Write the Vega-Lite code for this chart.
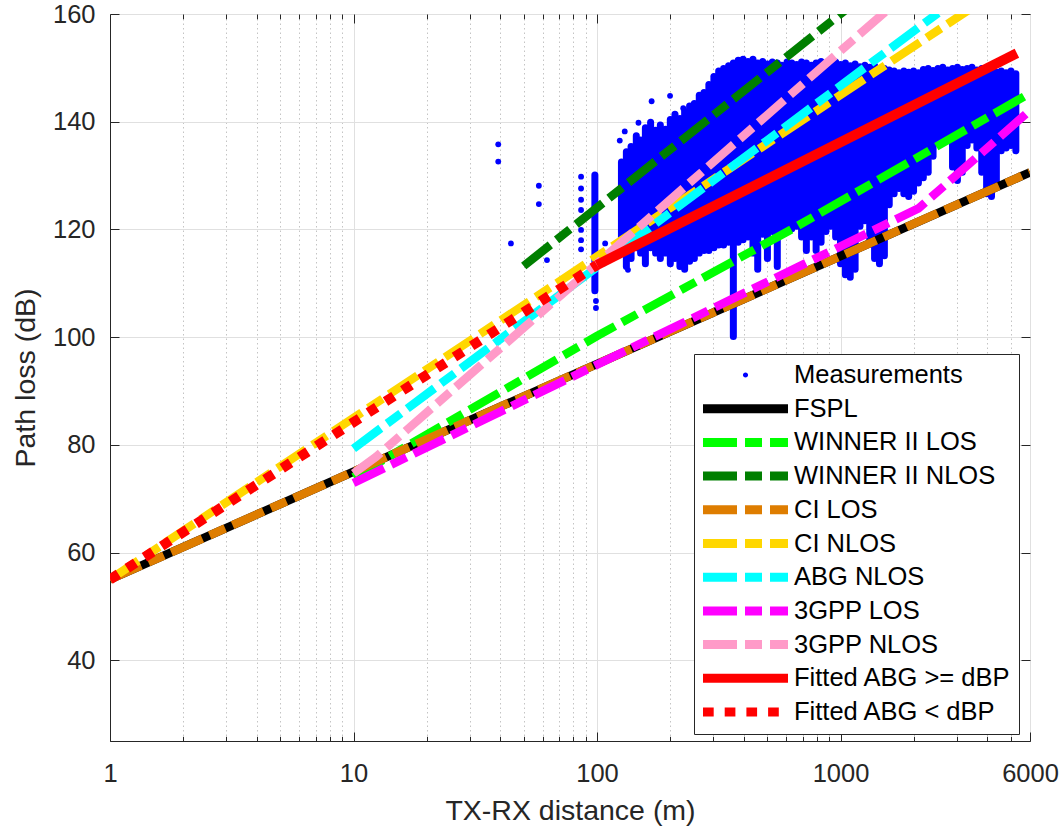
{
  "$schema": "https://vega.github.io/schema/vega-lite/v6.json",
  "width": 920,
  "height": 727,
  "autosize": {"type": "none"},
  "padding": {"left": 110, "top": 14, "right": 33, "bottom": 92},
  "background": "#ffffff",
  "config": {
    "font": "Liberation Sans",
    "view": {"stroke": "#262626", "strokeWidth": 1},
    "axis": {"labelFontSize": 25.5, "labelColor": "#262626", "titleFontSize": 28.5, "titleColor": "#262626", "titleFontWeight": "normal", "domainColor": "#262626", "tickColor": "#262626", "tickWidth": 1, "domainWidth": 1, "gridColor": "#e0e0e0", "gridWidth": 1, "labelFont": "Liberation Sans", "titleFont": "Liberation Sans"},
    "legend": {"strokeColor": "#262626", "strokeWidth": 1, "fillColor": "#ffffff", "padding": 8, "clipHeight": 26, "rowPadding": 6.7, "symbolSize": 7225, "symbolStrokeWidth": 9, "symbolOffset": -3.5, "labelOffset": 1.5, "labelFontSize": 25.5, "labelFont": "Liberation Sans", "labelColor": "#000000", "labelLimit": 400, "symbolType": "stroke", "cornerRadius": 0}
  },
  "datasets": {
    "cols": [
      {"d":98,"pl":130.1,"lo":108.6},
      {"d":126,"pl":132.5,"lo":115.6},{"d":132,"pl":134.4,"lo":113.1},{"d":138,"pl":135.4,"lo":114.6},{"d":145,"pl":137.4,"lo":116.6},{"d":151,"pl":136.6,"lo":115.6},{"d":158,"pl":138.9,"lo":113.6},{"d":166,"pl":139.9,"lo":116.6},{"d":174,"pl":138.4,"lo":115.6},{"d":182,"pl":139.4,"lo":114.6},{"d":191,"pl":138.6,"lo":115.6},
      {"d":200,"pl":140.4,"lo":113.6},{"d":209,"pl":141.4,"lo":114.6},{"d":219,"pl":140.6,"lo":113.1},{"d":229,"pl":141.9,"lo":112.6},{"d":240,"pl":142.9,"lo":114.1},{"d":251,"pl":143.4,"lo":114.6},{"d":263,"pl":144.9,"lo":115.6},{"d":275,"pl":145.4,"lo":116.1},{"d":288,"pl":146.9,"lo":116.1},{"d":302,"pl":148.4,"lo":116.6},
      {"d":316,"pl":149.4,"lo":117.1},{"d":331,"pl":149.9,"lo":117.1},{"d":347,"pl":150.4,"lo":117.6},{"d":363,"pl":150.9,"lo":100.1},{"d":380,"pl":151.4,"lo":117.6},{"d":398,"pl":151.6,"lo":118.1},{"d":417,"pl":151.2,"lo":118.6},{"d":437,"pl":151.6,"lo":115.6},{"d":457,"pl":150.9,"lo":112.6},{"d":479,"pl":151.2,"lo":119.1},
      {"d":501,"pl":150.7,"lo":114.6},{"d":525,"pl":151.1,"lo":119.6},{"d":550,"pl":150.9,"lo":113.1},{"d":575,"pl":150.5,"lo":119.6},{"d":603,"pl":151.1,"lo":120.6},{"d":631,"pl":150.9,"lo":120.1},{"d":661,"pl":150.6,"lo":120.6},{"d":692,"pl":151.1,"lo":118.6},{"d":724,"pl":150.9,"lo":116.1},{"d":759,"pl":150.5,"lo":118.6},
      {"d":794,"pl":150.9,"lo":116.1},{"d":832,"pl":151.2,"lo":117.6},{"d":871,"pl":150.7,"lo":119.6},{"d":912,"pl":150.9,"lo":120.6},{"d":955,"pl":151.1,"lo":118.6},{"d":1000,"pl":150.6,"lo":113.6},{"d":1047,"pl":150.9,"lo":111.6},{"d":1096,"pl":150.4,"lo":111.1},{"d":1148,"pl":150.7,"lo":112.6},{"d":1202,"pl":150.2,"lo":120.6},
      {"d":1259,"pl":150.5,"lo":121.6},{"d":1318,"pl":150.1,"lo":117.6},{"d":1380,"pl":150.4,"lo":114.6},{"d":1445,"pl":149.6,"lo":113.6},{"d":1514,"pl":149.9,"lo":115.1},{"d":1585,"pl":149.6,"lo":124.6},{"d":1660,"pl":149.4,"lo":126.6},{"d":1738,"pl":149.1,"lo":127.6},{"d":1820,"pl":149.4,"lo":126.6},{"d":1905,"pl":149.2,"lo":126.1},
      {"d":1995,"pl":149.4,"lo":127.1},{"d":2089,"pl":149.1,"lo":128.6},{"d":2188,"pl":149.7,"lo":129.6},{"d":2291,"pl":149.9,"lo":130.6},{"d":2399,"pl":149.5,"lo":133.6},{"d":2512,"pl":149.9,"lo":136.6},{"d":2630,"pl":150.1,"lo":137.1},{"d":2754,"pl":149.6,"lo":136.6},{"d":2884,"pl":149.9,"lo":131.6},{"d":3020,"pl":150.1,"lo":129.1},
      {"d":3162,"pl":149.7,"lo":130.6},{"d":3311,"pl":149.9,"lo":135.6},{"d":3467,"pl":150.1,"lo":136.6},{"d":3631,"pl":149.6,"lo":135.1},{"d":3802,"pl":149.9,"lo":130.6},{"d":3981,"pl":149.4,"lo":126.6},{"d":4169,"pl":149.6,"lo":126.1},{"d":4365,"pl":149.2,"lo":128.6},{"d":4571,"pl":149.4,"lo":134.6},{"d":4786,"pl":149.1,"lo":135.1},
      {"d":5012,"pl":149.4,"lo":135.6},{"d":5248,"pl":148.9,"lo":134.6}
    ],
    "pts": [
      {"d":39.3,"pl":135.8},{"d":39.3,"pl":132.6},{"d":44.3,"pl":117.4},{"d":57.7,"pl":128.1},{"d":57.7,"pl":124.7},{"d":62.3,"pl":114.3},
      {"d":86,"pl":129.8},{"d":86,"pl":127.6},{"d":86,"pl":125.5},{"d":86,"pl":123.6},{"d":86,"pl":121.7},{"d":86,"pl":119.9},{"d":86,"pl":118},{"d":86,"pl":116.3},
      {"d":99,"pl":106.7},{"d":99,"pl":105.4},{"d":108,"pl":117.4},{"d":134,"pl":112.5},{"d":124,"pl":136.5},{"d":130,"pl":138.2},{"d":148,"pl":139.8},{"d":167.6,"pl":143.8},{"d":199.5,"pl":144.8},{"d":226,"pl":142.5},{"d":265,"pl":144.6}
    ],
    "lines": [
      {"series":"FSPL","d":1,"pl":55},{"series":"FSPL","d":6000,"pl":130.6},
      {"series":"WINNER II LOS","d":10,"pl":74},{"series":"WINNER II LOS","d":100,"pl":100.2},{"series":"WINNER II LOS","d":640,"pl":120.2},{"series":"WINNER II LOS","d":6000,"pl":145.3},
      {"series":"WINNER II NLOS","d":50,"pl":113.2},{"series":"WINNER II NLOS","d":6000,"pl":188},
      {"series":"CI LOS","d":1,"pl":55},{"series":"CI LOS","d":6000,"pl":130.6},
      {"series":"CI NLOS","d":1,"pl":55},{"series":"CI NLOS","d":6000,"pl":168.3},
      {"series":"ABG NLOS","d":10,"pl":79.3},{"series":"ABG NLOS","d":6000,"pl":172.9},
      {"series":"3GPP LOS","d":10,"pl":72.9},{"series":"3GPP LOS","d":2090,"pl":123.9},{"series":"3GPP LOS","d":6000,"pl":142.1},
      {"series":"3GPP NLOS","d":10,"pl":74.7},{"series":"3GPP NLOS","d":12.4,"pl":77.8},{"series":"3GPP NLOS","d":6000,"pl":183.9},
      {"series":"Fitted ABG >= dBP","d":100,"pl":113.4},{"series":"Fitted ABG >= dBP","d":5300,"pl":152.7},
      {"series":"Fitted ABG < dBP","d":1,"pl":55},{"series":"Fitted ABG < dBP","d":100,"pl":113.4}
    ]
  },
  "resolve": {"axis": {"x": "independent", "y": "independent"}},
  "layer": [
    {
      "data": {"name": "cols"},
      "mark": {"type": "rule", "color": "#0000ff", "strokeWidth": 7, "strokeCap": "round", "clip": true},
      "encoding": {
        "x": {"field": "d", "type": "quantitative", "scale": {"type": "log", "domain": [1, 6000], "nice": false},
          "axis": {"orient": "bottom", "values": [1, 10, 100, 1000, 6000], "format": "d", "title": "TX-RX distance (m)", "grid": true, "tickSize": -9, "labelPadding": 29, "titlePadding": 10, "labelFlush": false, "labelOverlap": false,
            "encode": {"labels": {"update": {"dx": {"signal": "datum.value === 6000 ? -14 : 0"}}}}}},
        "y": {"field": "pl", "type": "quantitative", "scale": {"domain": [25, 160], "nice": false, "zero": false},
          "axis": {"orient": "left", "values": [40, 60, 80, 100, 120, 140, 160], "title": "Path loss (dB)", "grid": true, "tickSize": -9, "labelPadding": 24, "titlePadding": 12, "labelOverlap": false}},
        "y2": {"field": "lo"}
      }
    },
    {
      "data": {"name": "pts"},
      "mark": {"type": "point", "filled": true, "color": "#0000ff", "size": 34, "opacity": 1, "strokeWidth": 0, "clip": true},
      "encoding": {
        "x": {"field": "d", "type": "quantitative", "scale": {"type": "log", "domain": [1, 6000], "nice": false},
          "axis": {"orient": "bottom", "values": [2,3,4,5,6,7,8,9,20,30,40,50,60,70,80,90,200,300,400,500,600,700,800,900,2000,3000,4000,5000], "grid": true, "gridDash": [1.5, 3], "gridColor": "#c4c4c4", "labels": false, "tickSize": -4.7, "domain": false, "title": null}},
        "y": {"field": "pl", "type": "quantitative", "scale": {"domain": [25, 160], "nice": false, "zero": false},
          "axis": {"orient": "right", "values": [40, 60, 80, 100, 120, 140, 160], "grid": false, "labels": false, "tickSize": -9, "domain": false, "title": null}}
      }
    },
    {
      "data": {"name": "lines"},
      "transform": [{"filter": "datum.series === 'FSPL'"}],
      "mark": {"type": "line", "strokeWidth": 8.5, "strokeCap": "butt", "clip": true},
      "encoding": {
        "x": {"field": "d", "type": "quantitative", "scale": {"type": "log", "domain": [1, 6000], "nice": false},
          "axis": {"orient": "top", "values": [2,3,4,5,6,7,8,9,20,30,40,50,60,70,80,90,200,300,400,500,600,700,800,900,2000,3000,4000,5000], "grid": false, "labels": false, "tickSize": -4.7, "domain": false, "title": null}},
        "y": {"field": "pl", "type": "quantitative", "scale": {"domain": [25, 160], "nice": false, "zero": false}, "axis": null},
        "color": {"field": "series", "type": "nominal",
          "scale": {"domain": ["Measurements", "FSPL", "WINNER II LOS", "WINNER II NLOS", "CI LOS", "CI NLOS", "ABG NLOS", "3GPP LOS", "3GPP NLOS", "Fitted ABG >= dBP", "Fitted ABG < dBP"],
                    "range": ["#0000ff", "#000000", "#00ff00", "#007f00", "#de7d00", "#ffd700", "#00ffff", "#ff00ff", "#ff9ac8", "#ff0000", "#ff0000"]},
          "legend": {"title": null, "orient": "none", "legendX": 584, "legendY": 340,
            "encode": {"symbols": {"update": {
              "shape": [{"test": "datum.value === 'Measurements'", "value": "M-0.06,0a0.06,0.06 0 1,0 0.12,0a0.06,0.06 0 1,0 -0.12,0"}, {"value": "stroke"}],
              "fill": [{"test": "datum.value === 'Measurements'", "value": "#0000ff"}, {"value": "transparent"}],
              "strokeOpacity": [{"test": "datum.value === 'Measurements'", "value": 0}, {"value": 1}],
              "strokeDash": [{"test": "datum.value === 'FSPL' || datum.value === 'Fitted ABG >= dBP' || datum.value === 'Measurements'", "value": []}, {"test": "datum.value === 'Fitted ABG < dBP'", "value": [10.7, 11]}, {"value": [34, 8, 17, 8]}],
              "strokeCap": {"value": "butt"},
              "opacity": {"value": 1}
            }}}}
        }
      }
    },
    {
      "data": {"name": "lines"},
      "transform": [{"filter": "datum.series === 'WINNER II LOS'"}],
      "mark": {"type": "line", "strokeWidth": 8.5, "strokeCap": "butt", "strokeDash": [34, 8, 17, 8], "clip": true},
      "encoding": {
        "x": {"field": "d", "type": "quantitative", "scale": {"type": "log", "domain": [1, 6000], "nice": false},
          "axis": {"orient": "top", "values": [10, 100, 1000], "grid": false, "labels": false, "tickSize": -9, "domain": false, "title": null}},
        "y": {"field": "pl", "type": "quantitative", "scale": {"domain": [25, 160], "nice": false, "zero": false}, "axis": null},
        "color": {"field": "series", "type": "nominal", "legend": null}
      }
    },
    {
      "data": {"name": "lines"},
      "transform": [{"filter": "datum.series === 'WINNER II NLOS'"}],
      "mark": {"type": "line", "strokeWidth": 8.5, "strokeCap": "butt", "strokeDash": [34, 8, 17, 8], "clip": true},
      "encoding": {
        "x": {"field": "d", "type": "quantitative", "scale": {"type": "log", "domain": [1, 6000], "nice": false}, "axis": null},
        "y": {"field": "pl", "type": "quantitative", "scale": {"domain": [25, 160], "nice": false, "zero": false}, "axis": null},
        "color": {"field": "series", "type": "nominal", "legend": null}
      }
    },
    {
      "data": {"name": "lines"},
      "transform": [{"filter": "datum.series === 'CI LOS'"}],
      "mark": {"type": "line", "strokeWidth": 8.5, "strokeCap": "butt", "strokeDash": [34, 8, 17, 8], "clip": true},
      "encoding": {
        "x": {"field": "d", "type": "quantitative", "scale": {"type": "log", "domain": [1, 6000], "nice": false}, "axis": null},
        "y": {"field": "pl", "type": "quantitative", "scale": {"domain": [25, 160], "nice": false, "zero": false}, "axis": null},
        "color": {"field": "series", "type": "nominal", "legend": null}
      }
    },
    {
      "data": {"name": "lines"},
      "transform": [{"filter": "datum.series === 'CI NLOS'"}],
      "mark": {"type": "line", "strokeWidth": 8.5, "strokeCap": "butt", "strokeDash": [34, 8, 17, 8], "clip": true},
      "encoding": {
        "x": {"field": "d", "type": "quantitative", "scale": {"type": "log", "domain": [1, 6000], "nice": false}, "axis": null},
        "y": {"field": "pl", "type": "quantitative", "scale": {"domain": [25, 160], "nice": false, "zero": false}, "axis": null},
        "color": {"field": "series", "type": "nominal", "legend": null}
      }
    },
    {
      "data": {"name": "lines"},
      "transform": [{"filter": "datum.series === 'ABG NLOS'"}],
      "mark": {"type": "line", "strokeWidth": 8.5, "strokeCap": "butt", "strokeDash": [34, 8, 17, 8], "clip": true},
      "encoding": {
        "x": {"field": "d", "type": "quantitative", "scale": {"type": "log", "domain": [1, 6000], "nice": false}, "axis": null},
        "y": {"field": "pl", "type": "quantitative", "scale": {"domain": [25, 160], "nice": false, "zero": false}, "axis": null},
        "color": {"field": "series", "type": "nominal", "legend": null}
      }
    },
    {
      "data": {"name": "lines"},
      "transform": [{"filter": "datum.series === '3GPP LOS'"}],
      "mark": {"type": "line", "strokeWidth": 8.5, "strokeCap": "butt", "strokeDash": [34, 8, 17, 8], "clip": true},
      "encoding": {
        "x": {"field": "d", "type": "quantitative", "scale": {"type": "log", "domain": [1, 6000], "nice": false}, "axis": null},
        "y": {"field": "pl", "type": "quantitative", "scale": {"domain": [25, 160], "nice": false, "zero": false}, "axis": null},
        "color": {"field": "series", "type": "nominal", "legend": null}
      }
    },
    {
      "data": {"name": "lines"},
      "transform": [{"filter": "datum.series === '3GPP NLOS'"}],
      "mark": {"type": "line", "strokeWidth": 8.5, "strokeCap": "butt", "strokeDash": [34, 8, 17, 8], "clip": true},
      "encoding": {
        "x": {"field": "d", "type": "quantitative", "scale": {"type": "log", "domain": [1, 6000], "nice": false}, "axis": null},
        "y": {"field": "pl", "type": "quantitative", "scale": {"domain": [25, 160], "nice": false, "zero": false}, "axis": null},
        "color": {"field": "series", "type": "nominal", "legend": null}
      }
    },
    {
      "data": {"name": "lines"},
      "transform": [{"filter": "datum.series === 'Fitted ABG >= dBP'"}],
      "mark": {"type": "line", "strokeWidth": 10, "strokeCap": "butt", "clip": true},
      "encoding": {
        "x": {"field": "d", "type": "quantitative", "scale": {"type": "log", "domain": [1, 6000], "nice": false}, "axis": null},
        "y": {"field": "pl", "type": "quantitative", "scale": {"domain": [25, 160], "nice": false, "zero": false}, "axis": null},
        "color": {"field": "series", "type": "nominal", "legend": null}
      }
    },
    {
      "data": {"name": "lines"},
      "transform": [{"filter": "datum.series === 'Fitted ABG < dBP'"}],
      "mark": {"type": "line", "strokeWidth": 10, "strokeCap": "butt", "strokeDash": [10, 10.5], "clip": true},
      "encoding": {
        "x": {"field": "d", "type": "quantitative", "scale": {"type": "log", "domain": [1, 6000], "nice": false}, "axis": null},
        "y": {"field": "pl", "type": "quantitative", "scale": {"domain": [25, 160], "nice": false, "zero": false}, "axis": null},
        "color": {"field": "series", "type": "nominal", "legend": null}
      }
    }
  ]
}
